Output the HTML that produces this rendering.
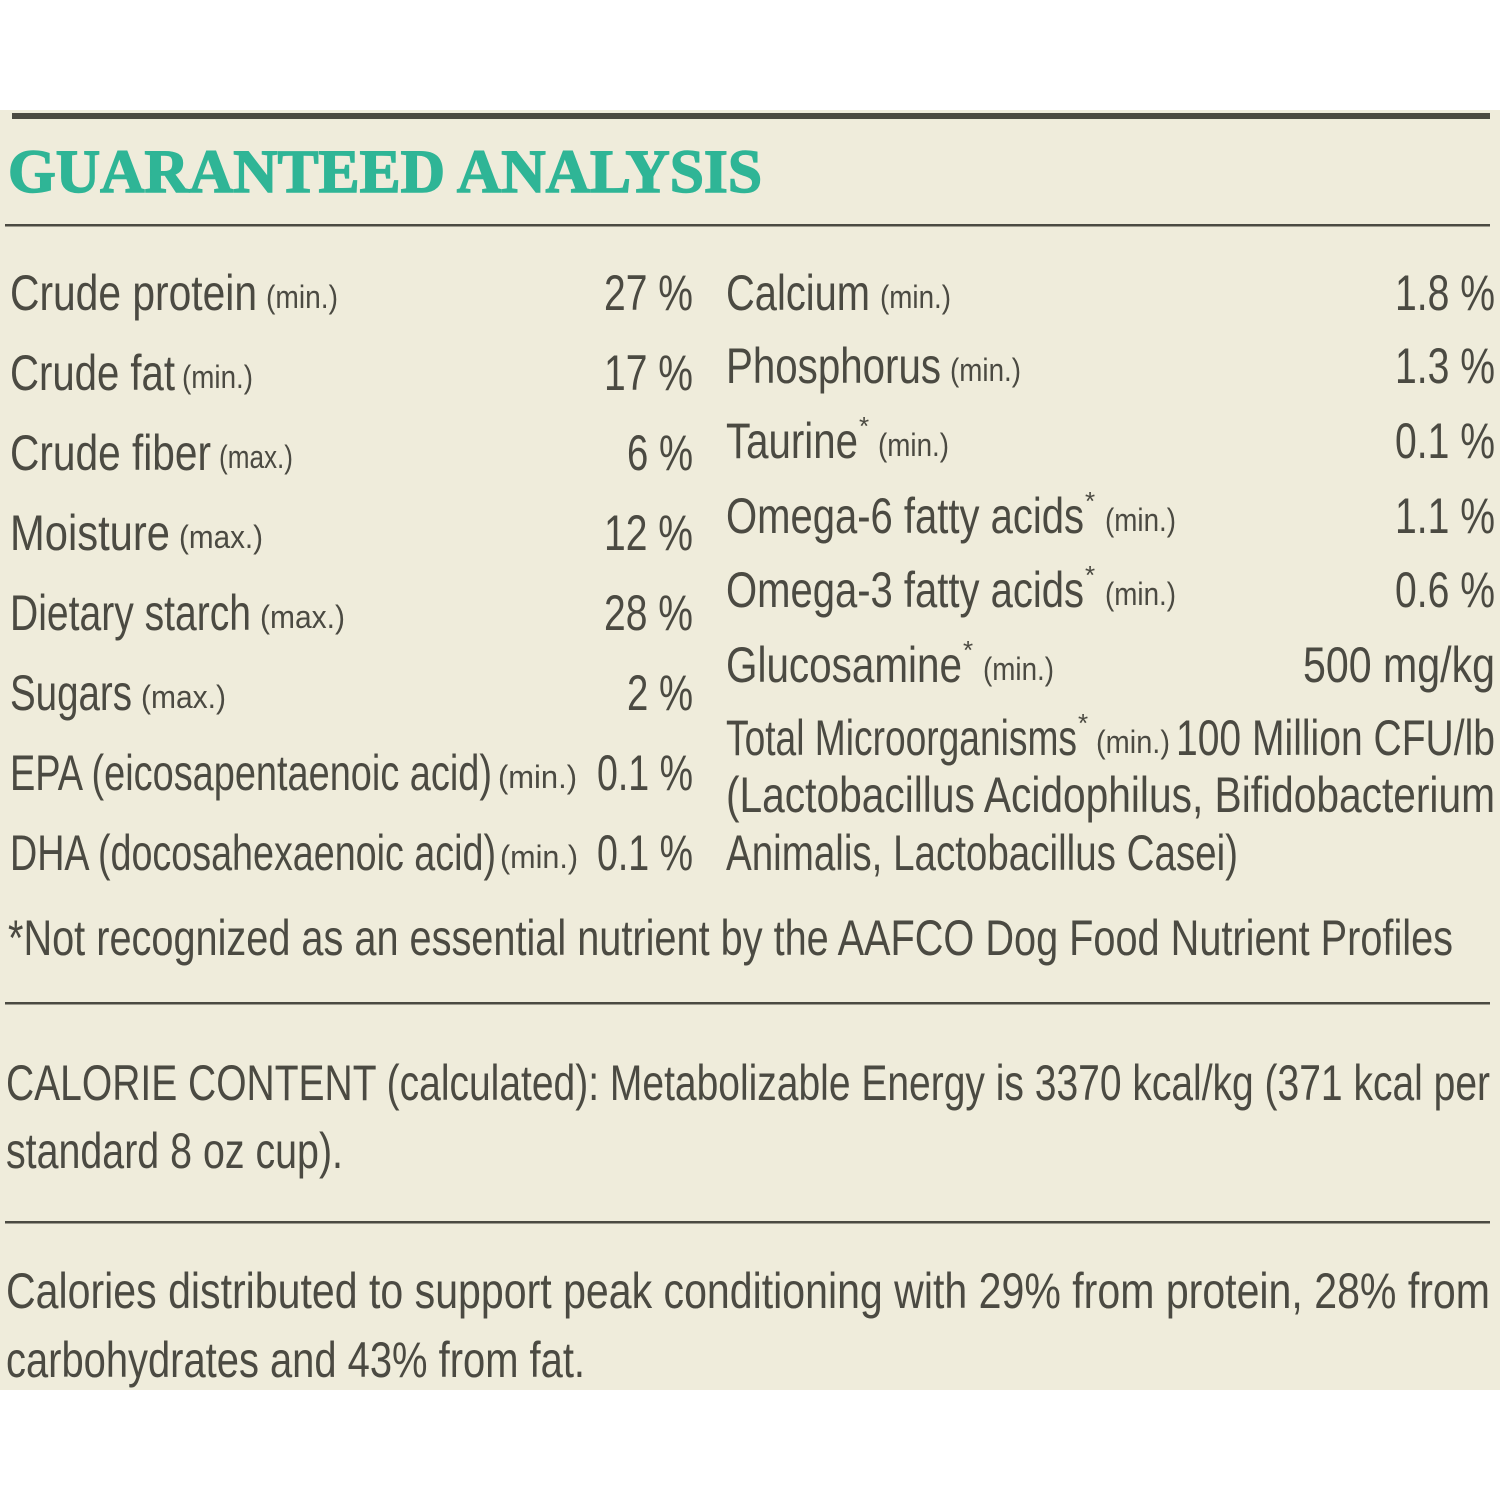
<!DOCTYPE html>
<html><head><meta charset="utf-8"><style>
html,body{margin:0;padding:0;background:#fff;}
svg{display:block}
text{font-family:"Liberation Sans",sans-serif;fill:#4b4a42;}
.m{font-size:50px}
.s{font-size:32px}
.a{font-size:26px}
</style></head><body>
<svg width="1500" height="1500" viewBox="0 0 1500 1500" xmlns="http://www.w3.org/2000/svg">
<rect x="0" y="110" width="1500" height="1280" fill="#efecdb"/>
<rect x="12" y="113" width="1478" height="6" fill="#4b4a42"/>
<rect x="5" y="224" width="1485" height="2.5" fill="#4b4a42"/>
<rect x="5" y="1002" width="1485" height="2.5" fill="#4b4a42"/>
<rect x="5" y="1221" width="1485" height="2.5" fill="#4b4a42"/>
<text x="8" y="192" style="font-family:'Liberation Serif',serif;font-weight:bold;font-size:61px;fill:#2fb596;stroke:#2fb596;stroke-width:1.5" textLength="754" lengthAdjust="spacingAndGlyphs">GUARANTEED ANALYSIS</text>

<g class="left">
<text class="m" x="10" y="310" textLength="247" lengthAdjust="spacingAndGlyphs">Crude protein</text>
<text class="s" x="266" y="308" textLength="72" lengthAdjust="spacingAndGlyphs">(min.)</text>
<text class="m" x="693" y="310" text-anchor="end" textLength="89" lengthAdjust="spacingAndGlyphs">27 %</text>

<text class="m" x="10" y="390" textLength="165" lengthAdjust="spacingAndGlyphs">Crude fat</text>
<text class="s" x="182" y="388" textLength="71" lengthAdjust="spacingAndGlyphs">(min.)</text>
<text class="m" x="693" y="390" text-anchor="end" textLength="89" lengthAdjust="spacingAndGlyphs">17 %</text>

<text class="m" x="10" y="470" textLength="201" lengthAdjust="spacingAndGlyphs">Crude fiber</text>
<text class="s" x="219" y="468" textLength="74" lengthAdjust="spacingAndGlyphs">(max.)</text>
<text class="m" x="693" y="470" text-anchor="end" textLength="66" lengthAdjust="spacingAndGlyphs">6 %</text>

<text class="m" x="10" y="550" textLength="160" lengthAdjust="spacingAndGlyphs">Moisture</text>
<text class="s" x="179" y="548" textLength="84" lengthAdjust="spacingAndGlyphs">(max.)</text>
<text class="m" x="693" y="550" text-anchor="end" textLength="89" lengthAdjust="spacingAndGlyphs">12 %</text>

<text class="m" x="10" y="630" textLength="241" lengthAdjust="spacingAndGlyphs">Dietary starch</text>
<text class="s" x="260" y="628" textLength="85" lengthAdjust="spacingAndGlyphs">(max.)</text>
<text class="m" x="693" y="630" text-anchor="end" textLength="89" lengthAdjust="spacingAndGlyphs">28 %</text>

<text class="m" x="10" y="710" textLength="122" lengthAdjust="spacingAndGlyphs">Sugars</text>
<text class="s" x="141" y="708" textLength="85" lengthAdjust="spacingAndGlyphs">(max.)</text>
<text class="m" x="693" y="710" text-anchor="end" textLength="66" lengthAdjust="spacingAndGlyphs">2 %</text>

<text class="m" x="10" y="790" textLength="482" lengthAdjust="spacingAndGlyphs">EPA (eicosapentaenoic acid)</text>
<text class="s" x="498" y="788" textLength="79" lengthAdjust="spacingAndGlyphs">(min.)</text>
<text class="m" x="693" y="790" text-anchor="end" textLength="96" lengthAdjust="spacingAndGlyphs">0.1 %</text>

<text class="m" x="10" y="870" textLength="486" lengthAdjust="spacingAndGlyphs">DHA (docosahexaenoic acid)</text>
<text class="s" x="500" y="868" textLength="78" lengthAdjust="spacingAndGlyphs">(min.)</text>
<text class="m" x="693" y="870" text-anchor="end" textLength="96" lengthAdjust="spacingAndGlyphs">0.1 %</text>
</g>

<g class="right">
<text class="m" x="726" y="310" textLength="144" lengthAdjust="spacingAndGlyphs">Calcium</text>
<text class="s" x="880" y="308" textLength="71" lengthAdjust="spacingAndGlyphs">(min.)</text>
<text class="m" x="1495" y="310" text-anchor="end" textLength="100" lengthAdjust="spacingAndGlyphs">1.8 %</text>

<text class="m" x="726" y="383" textLength="215" lengthAdjust="spacingAndGlyphs">Phosphorus</text>
<text class="s" x="950" y="381" textLength="71" lengthAdjust="spacingAndGlyphs">(min.)</text>
<text class="m" x="1495" y="383" text-anchor="end" textLength="100" lengthAdjust="spacingAndGlyphs">1.3 %</text>

<text class="m" x="726" y="458" textLength="132" lengthAdjust="spacingAndGlyphs">Taurine</text>
<text class="a" x="859" y="435">*</text>
<text class="s" x="878" y="456" textLength="71" lengthAdjust="spacingAndGlyphs">(min.)</text>
<text class="m" x="1495" y="458" text-anchor="end" textLength="100" lengthAdjust="spacingAndGlyphs">0.1 %</text>

<text class="m" x="726" y="533" textLength="358" lengthAdjust="spacingAndGlyphs">Omega-6 fatty acids</text>
<text class="a" x="1085" y="510">*</text>
<text class="s" x="1105" y="531" textLength="71" lengthAdjust="spacingAndGlyphs">(min.)</text>
<text class="m" x="1495" y="533" text-anchor="end" textLength="100" lengthAdjust="spacingAndGlyphs">1.1 %</text>

<text class="m" x="726" y="607" textLength="358" lengthAdjust="spacingAndGlyphs">Omega-3 fatty acids</text>
<text class="a" x="1085" y="584">*</text>
<text class="s" x="1105" y="605" textLength="71" lengthAdjust="spacingAndGlyphs">(min.)</text>
<text class="m" x="1495" y="607" text-anchor="end" textLength="100" lengthAdjust="spacingAndGlyphs">0.6 %</text>

<text class="m" x="726" y="682" textLength="236" lengthAdjust="spacingAndGlyphs">Glucosamine</text>
<text class="a" x="963" y="659">*</text>
<text class="s" x="983" y="680" textLength="71" lengthAdjust="spacingAndGlyphs">(min.)</text>
<text class="m" x="1495" y="682" text-anchor="end" textLength="192" lengthAdjust="spacingAndGlyphs">500 mg/kg</text>

<text class="m" x="726" y="755" textLength="351" lengthAdjust="spacingAndGlyphs">Total Microorganisms</text>
<text class="a" x="1078" y="732">*</text>
<text class="s" x="1096" y="753" textLength="74" lengthAdjust="spacingAndGlyphs">(min.)</text>
<text class="m" x="1176" y="755" textLength="319" lengthAdjust="spacingAndGlyphs">100 Million CFU/lb</text>

<text class="m" x="726" y="812" textLength="769" lengthAdjust="spacingAndGlyphs">(Lactobacillus  Acidophilus,  Bifidobacterium</text>
<text class="m" x="726" y="870" textLength="512" lengthAdjust="spacingAndGlyphs">Animalis, Lactobacillus Casei)</text>
</g>

<text class="m" x="8" y="955" textLength="1445" lengthAdjust="spacingAndGlyphs">*Not recognized as an essential nutrient by the AAFCO Dog Food Nutrient Profiles</text>

<text class="m" x="6" y="1100" textLength="1484" lengthAdjust="spacingAndGlyphs">CALORIE CONTENT (calculated): Metabolizable Energy is 3370 kcal/kg (371 kcal per</text>
<text class="m" x="6" y="1168" textLength="337" lengthAdjust="spacingAndGlyphs">standard 8 oz cup).</text>

<text class="m" x="6" y="1308" textLength="1484" lengthAdjust="spacingAndGlyphs">Calories distributed to support peak conditioning with 29% from protein, 28% from</text>
<text class="m" x="6" y="1377" textLength="579" lengthAdjust="spacingAndGlyphs">carbohydrates and 43% from fat.</text>
</svg>
</body></html>
